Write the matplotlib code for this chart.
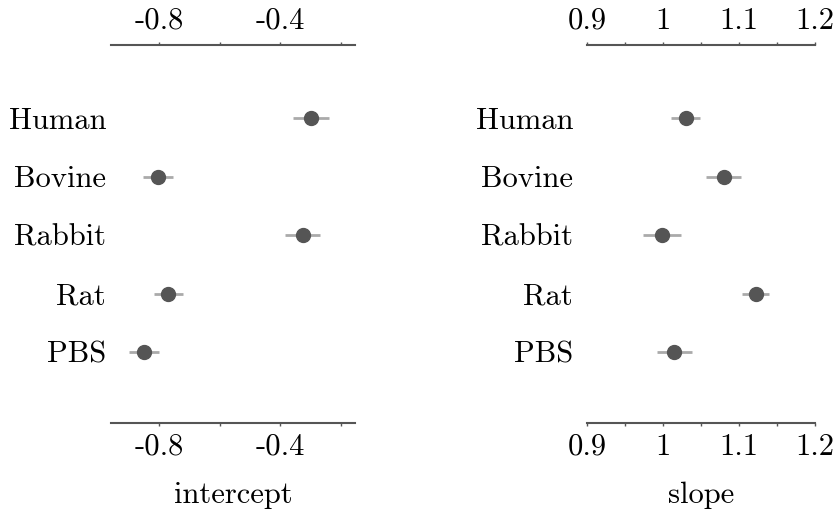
import matplotlib
matplotlib.use("Agg")
import matplotlib.pyplot as plt
from matplotlib.ticker import FixedLocator, MultipleLocator

plt.rcParams['font.family'] = ['cmr10', 'DejaVu Serif']
plt.rcParams['axes.unicode_minus'] = False

groups = ["Human", "Bovine", "Rabbit", "Rat", "PBS"]

intercept_est = [-0.300, -0.803, -0.327, -0.770, -0.850]
intercept_err = [0.060, 0.050, 0.058, 0.048, 0.050]

slope_est = [1.030, 1.080, 0.999, 1.122, 1.015]
slope_err = [0.019, 0.023, 0.025, 0.018, 0.023]

intercept_ticks = [-0.8, -0.4]
intercept_ticklabels = ["-0.8", "-0.4"]
slope_ticks = [0.9, 1.0, 1.1, 1.2]
slope_ticklabels = ["0.9", "1", "1.1", "1.2"]

W, H = 833, 511
fig = plt.figure(figsize=(W / 100, H / 100), dpi=100)

dot_color = "#555555"
bar_color = "#aaaaaa"
spine_color = "#555555"
fs = 22


def panel(rect, est, err, xlim, ticks, ticklabels, minor_step, xlabel, ypad):
    ax = fig.add_axes(rect)
    y = list(range(len(groups)))
    ax.errorbar(est, y, xerr=err, fmt="none", ecolor=bar_color, elinewidth=2.0, capsize=0, zorder=2)
    ax.plot(est, y, "o", color=dot_color, markersize=10, zorder=3)
    ax.set_xlim(*xlim)
    ax.set_ylim(len(groups) - 1 + 1.21, -1.25)
    ax.set_yticks(y)
    ax.set_yticklabels(groups, fontsize=fs)
    ax.tick_params(axis="y", length=0, pad=ypad)
    ax.xaxis.set_major_locator(FixedLocator(ticks))
    ax.set_xticklabels(ticklabels, fontsize=fs)
    ax.xaxis.set_minor_locator(MultipleLocator(minor_step))
    ax.tick_params(axis="x", which="both", direction="out", length=2.5, width=1.0,
                   color=spine_color, top=True, bottom=True, labeltop=True, labelbottom=True, pad=5)
    for s in ("left", "right"):
        ax.spines[s].set_visible(False)
    for s in ("top", "bottom"):
        ax.spines[s].set_color(spine_color)
        ax.spines[s].set_linewidth(1.5)
    ax.set_xlabel(xlabel, fontsize=fs, labelpad=15)
    return ax


panel([111 / W, 88 / H, 244 / W, 378 / H], intercept_est, intercept_err,
      (-0.959, -0.154), intercept_ticks, intercept_ticklabels, 0.2, "intercept", 3.5)
panel([587 / W, 88 / H, 228 / W, 378 / H], slope_est, slope_err,
      (0.9, 1.2), slope_ticks, slope_ticklabels, 0.05, "slope", 10)

fig.savefig("out.png", dpi=100)
